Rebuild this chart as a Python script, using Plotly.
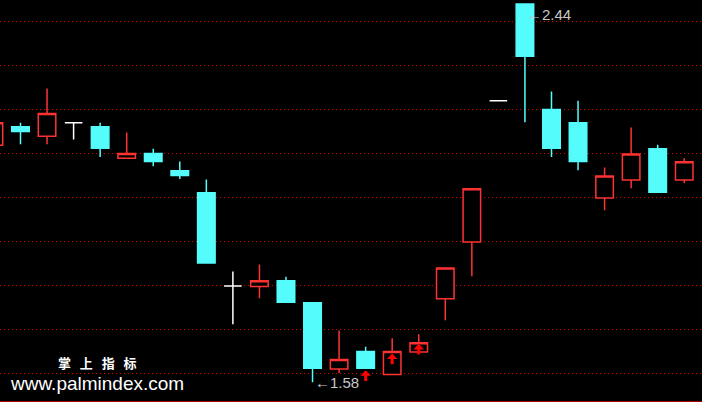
import plotly.graph_objects as go

# ---- data (index = candle position) ----
opens  = [2.119, 2.161, 2.139, 2.170, 2.161, 2.089, 2.100, 2.061, 2.011, 1.799,
          1.798, 1.811, 1.761, 1.610, 1.650, 1.598, 1.649, 1.770, 1.899, 2.220,
          2.440, 2.200, 2.170, 1.999, 2.040, 2.111, 2.040]
highs  = [2.170, 2.170, 2.248, 2.170, 2.170, 2.148, 2.111, 2.082, 2.041, 1.832,
          1.848, 1.820, 1.761, 1.698, 1.661, 1.680, 1.689, 1.840, 2.020, 2.220,
          2.440, 2.241, 2.220, 2.068, 2.159, 2.120, 2.089]
lows   = [2.119, 2.121, 2.121, 2.132, 2.092, 2.089, 2.071, 2.042, 1.851, 1.712,
          1.771, 1.762, 1.580, 1.601, 1.612, 1.598, 1.649, 1.721, 1.821, 2.220,
          2.171, 2.092, 2.062, 1.971, 2.021, 2.012, 2.033]
closes = [2.170, 2.150, 2.191, 2.170, 2.112, 2.100, 2.082, 2.050, 1.851, 1.799,
          1.811, 1.762, 1.612, 1.632, 1.612, 1.650, 1.670, 1.840, 2.020, 2.220,
          2.321, 2.112, 2.082, 2.049, 2.099, 2.012, 2.081]

arrow_idx = [14, 15, 16]
arrow_tip = [1.607, 1.645, 1.667]

grid_levels = [1.6, 1.7, 1.8, 1.9, 2.0, 2.1, 2.2, 2.3, 2.4]
brand_cn = "掌\u00a0\u00a0\u00a0上\u00a0\u00a0\u00a0指\u00a0\u00a0\u00a0标"
brand_url = "www.palmindex.com"

RED = "#ff3232"
CYAN = "#54fcfc"
WHITE = "#ffffff"

idx = list(range(len(opens)))
up = [i for i in idx if closes[i] > opens[i]]
dn = [i for i in idx if closes[i] < opens[i]]
dj = [i for i in idx if closes[i] == opens[i]]


def sub(arr, sel):
    return [arr[i] for i in sel]


fig = go.Figure()
for sel, fill, col in [(up, "#000000", RED), (dn, CYAN, CYAN), (dj, WHITE, WHITE)]:
    fig.add_trace(go.Candlestick(
        x=sel, open=sub(opens, sel), high=sub(highs, sel),
        low=sub(lows, sel), close=sub(closes, sel),
        increasing=dict(line=dict(color=col, width=1.5), fillcolor=fill),
        decreasing=dict(line=dict(color=col, width=1.5), fillcolor=fill),
        whiskerwidth=0, hoverinfo="skip", showlegend=False,
    ))

# arrows
for i, tip in zip(arrow_idx, arrow_tip):
    fig.add_annotation(x=i, y=tip, text="", showarrow=True, ax=0, ay=12,
                       arrowhead=1, arrowsize=0.6, arrowwidth=3,
                       arrowcolor="#ff0000", standoff=0)

# max / min labels
imax = max(idx, key=lambda k: highs[k])
imin = min(idx, key=lambda k: lows[k])
fig.add_annotation(x=imax, y=highs[imax], text="←%.2f" % highs[imax],
                   showarrow=False, xanchor="left", yanchor="top",
                   font=dict(family="Liberation Sans", size=15, color="#c8c8c8"))
fig.add_annotation(x=imin, y=lows[imin], text="←%.2f" % lows[imin],
                   showarrow=False, xanchor="left", yanchor="middle",
                   font=dict(family="Liberation Sans", size=15, color="#c8c8c8"))

# watermark
fig.add_annotation(xref="paper", yref="paper", x=0.139, y=0.096, text="<b>%s</b>" % brand_cn,
                   showarrow=False, xanchor="center", yanchor="middle",
                   font=dict(family="Noto Sans CJK SC", size=13, color=WHITE))
fig.add_annotation(xref="paper", yref="paper", x=0.012, y=0.043, text=brand_url,
                   showarrow=False, xanchor="left", yanchor="middle",
                   font=dict(family="Liberation Sans", size=19, color=WHITE))

fig.update_layout(
    width=702, height=402,
    margin=dict(l=0, r=0, t=0, b=1),
    paper_bgcolor="#000000", plot_bgcolor="#000000",
    boxgap=0.34, boxgroupgap=0,
    showlegend=False,
    xaxis=dict(range=[0.228, 26.669], showgrid=False, zeroline=False,
               showticklabels=False, ticks="", rangeslider=dict(visible=False),
               showline=True, linecolor="#b00000", linewidth=1, mirror=False),
    yaxis=dict(range=[1.53749, 2.44886], tickmode="array", tickvals=grid_levels,
               showticklabels=False, ticks="", zeroline=False,
               showgrid=True, gridcolor="#e00000", gridwidth=1, griddash="1px,3px"),
)

fig.write_html("out.html", config={"displayModeBar": False},
               post_script="document.body.style.margin='0';")
